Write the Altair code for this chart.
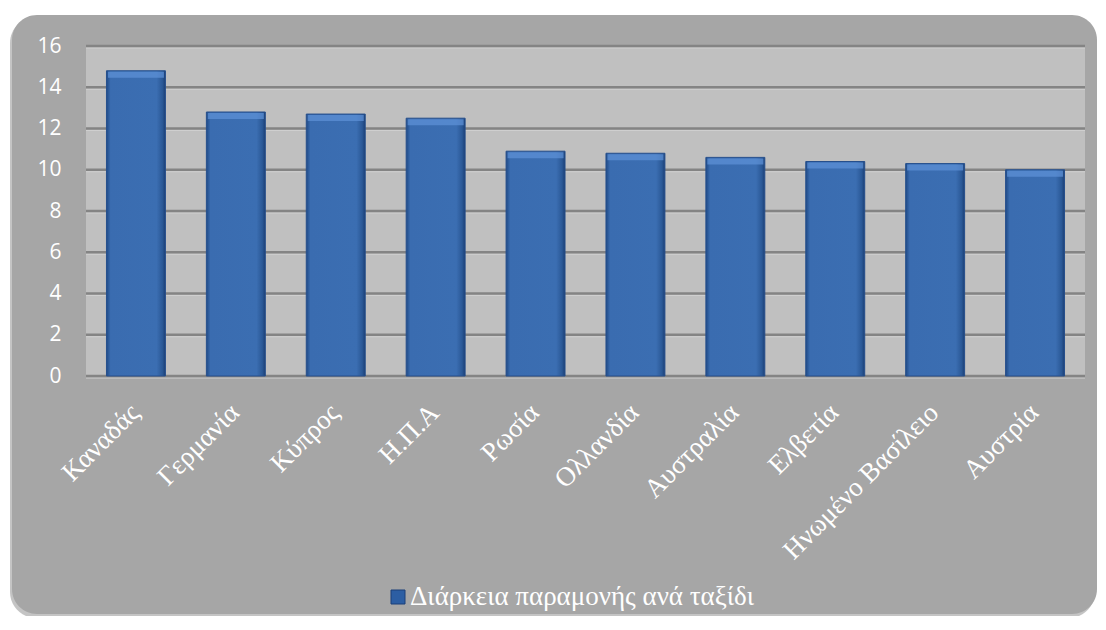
import altair as alt
import pandas as pd

countries = ["Καναδάς", "Γερμανία", "Κύπρος", "Η.Π.Α", "Ρωσία", "Ολλανδία",
             "Αυστραλία", "Ελβετία", "Ηνωμένο Βασίλειο", "Αυστρία"]
values = [14.8, 12.8, 12.7, 12.5, 10.9, 10.8, 10.6, 10.4, 10.3, 10.0]
series_name = "Διάρκεια παραμονής ανά ταξίδι"
y_ticks = [0, 2, 4, 6, 8, 10, 12, 14, 16]

df = pd.DataFrame({"country": countries, "value": values, "series": series_name})
grid_df = pd.DataFrame({"value": y_ticks})
legend_df = pd.DataFrame({"series": [series_name]})
one = pd.DataFrame({"k": [0]})

W, H = 999, 330
FRAME = "#a6a6a6"
PLOT_BG = "#c0c0c0"
GRID = "#848484"
SERIF = "Liberation Serif"

xscale = alt.Scale(paddingInner=0.41, paddingOuter=0.205)
xaxis = alt.Axis(labelAngle=-45, labelFont=SERIF, labelFontSize=27,
                 labelAlign="right", labelBaseline="top",
                 labelColor="white", ticks=False, domain=False, labelLimit=500,
                 labelPadding=23, labelOffset=-10, zindex=1, grid=False)
yscale = alt.Scale(domain=[0, 16], nice=False)
yaxis = alt.Axis(values=y_ticks, labelFont="Open Sans", labelFontSize=21,
                 labelColor="white", ticks=False, domain=False, grid=False,
                 labelPadding=25, zindex=1)


def xenc():
    return alt.X("country:N", sort=countries, title=None, scale=xscale, axis=xaxis)


def yenc():
    return alt.Y("value:Q", title=None, scale=yscale, axis=yaxis)


shadow = alt.Chart(one).mark_rect(cornerRadius=26, color="#8a8a8a", opacity=0.5).encode(
    x=alt.value(-76), x2=alt.value(1009), y=alt.value(-29), y2=alt.value(572))
frame = alt.Chart(one).mark_rect(cornerRadius=25, color=FRAME).encode(
    x=alt.value(-74), x2=alt.value(1011), y=alt.value(-31), y2=alt.value(568))
plotbg = alt.Chart(one).mark_rect(color=PLOT_BG).encode(
    x=alt.value(0), x2=alt.value(W), y=alt.value(0), y2=alt.value(H))

grid = alt.Chart(grid_df).mark_rule(color=GRID, strokeWidth=2.5).encode(y=yenc())
grid_hi = alt.Chart(grid_df).mark_rule(color="#cfcfcf", strokeWidth=1, yOffset=2).encode(y=yenc())

bar_grad = alt.Gradient(
    gradient="linear", x1=0, x2=1, y1=0, y2=0,
    stops=[alt.GradientStop(color="#1f4a86", offset=0),
           alt.GradientStop(color="#3a6cb0", offset=0.07),
           alt.GradientStop(color="#3b6eb2", offset=0.85),
           alt.GradientStop(color="#2a5896", offset=0.95),
           alt.GradientStop(color="#1b3f75", offset=1)])

bars = alt.Chart(df).mark_bar(fill=bar_grad, stroke="#264f8c", strokeWidth=1).encode(
    x=xenc(), y=yenc())
bevel = alt.Chart(df).mark_tick(color="#5f93d9", thickness=6, size=56, yOffset=4).encode(
    x=xenc(), y=yenc())

# legend (symbol + real text label)
leg_symbol = alt.Chart(legend_df).mark_square(
    size=196, fill="#2c5ea3", stroke="#1a3f78", strokeWidth=1, opacity=1).encode(
    x=alt.value(312), y=alt.value(551))
leg_text = alt.Chart(legend_df).mark_text(
    font=SERIF, fontSize=27, color="white", align="left", baseline="middle").encode(
    x=alt.value(324), y=alt.value(551), text="series:N")

chart = alt.layer(shadow, frame, plotbg, grid_hi, grid, bars, bevel,
                  leg_symbol, leg_text).properties(
    width=W, height=H,
    autosize=alt.AutoSizeParams(type="none"),
    padding={"left": 78, "top": 38, "right": 13, "bottom": 240},
    background="white",
).configure_view(stroke=None)

chart.save("out.html", embed_options={"renderer": "svg", "actions": False})
